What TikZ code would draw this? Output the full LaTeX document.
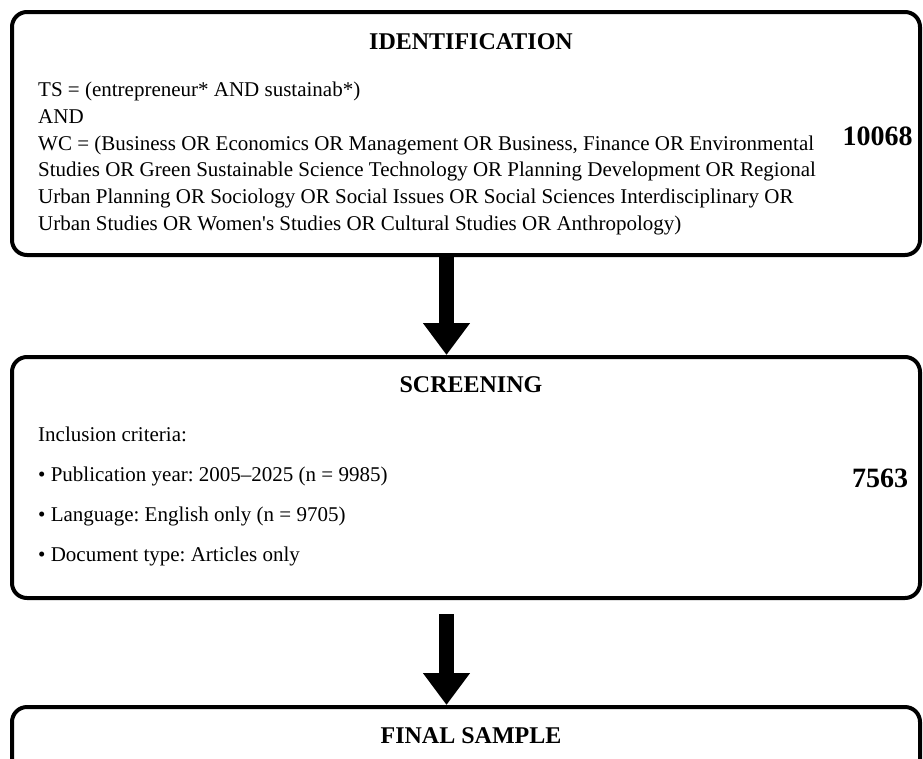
\documentclass[tikz,border=0pt]{standalone}
\usepackage{fontspec}
\setmainfont{Liberation Serif}
\usetikzlibrary{arrows.meta}
\frenchspacing
\tikzset{
    stage/.style = {draw, line width=4pt, rounded corners=15pt, inner sep=0pt},
    heading/.style = {font=\fontsize{24}{28}\selectfont\bfseries, anchor=base, inner sep=0pt},
    body/.style = {font=\fontsize{21}{26}\selectfont, anchor=base west, inner sep=0pt},
    tally/.style = {font=\fontsize{28}{32}\selectfont\bfseries, anchor=base, inner sep=0pt},
    flow/.style = {line width=15pt, -{Triangle[width=45pt, length=32pt]}}
}

\begin{document}
\begin{tikzpicture}[x=1pt, y=-1pt]
    \path[use as bounding box, clip] (0,0) rectangle (923,758);
    % stages
    \node[stage, minimum width=908pt, minimum height=243pt] (ident) at (466,133.5) {};
    \node[stage, minimum width=908pt, minimum height=241pt] (screen) at (466,477.5) {};
    \node[stage, minimum width=908pt, minimum height=100pt] (final) at (466,757) {};
    \coordinate (axis) at (446.5,0);

    \node[heading] (identtitle) at (471,49.3) {IDENTIFICATION};
    \foreach \txt [count=\i] in {{TS = (entrepreneur* AND sustainab*)}, AND,
        {WC = (Business OR Economics OR Management OR Business, Finance OR Environmental},
        {Studies OR Green Sustainable Science Technology OR Planning Development OR Regional},
        {Urban Planning OR Sociology OR Social Issues OR Social Sciences Interdisciplinary OR},
        {Urban Studies OR Women\textquotesingle s Studies OR Cultural Studies OR Anthropology)}}
        \node[body] (query\i) at (38,70+26.7*\i) {\txt};
    \node[tally] (identn) at (877.5,145) {10068};

    \node[heading] (screentitle) at (471,392) {SCREENING};
    \node[body] (criteria) at (38,441.7) {Inclusion criteria:};
    \foreach \txt [count=\i] in {{Publication year: 2005--2025 (n = 9985)},
        {Language: English only (n = 9705)}, {Document type: Articles only}}
        \node[body] (crit\i) at (38,441.7+40*\i) {\textbullet{} \txt};
    \node[tally] (screenn) at (880,487) {7563};

    \node[heading] (finaltitle) at (471,743) {FINAL SAMPLE};

    % arrows
    \draw[flow] (ident.south -| axis) -- (screen.north -| axis);
    \draw[flow] ([yshift=-14pt]screen.south -| axis) -- (final.north -| axis);
\end{tikzpicture}
\end{document}
